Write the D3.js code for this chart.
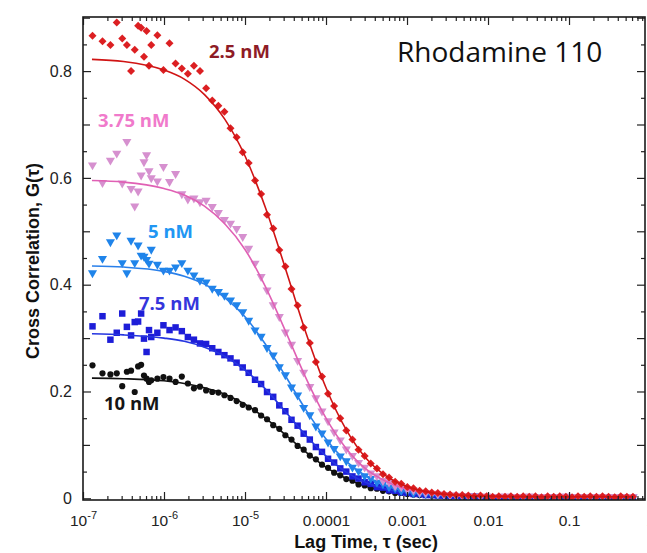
<!DOCTYPE html>
<html><head><meta charset="utf-8">
<script src="https://cdn.jsdelivr.net/npm/d3@7"></script>
<style>body{margin:0;background:#fff}svg{display:block}</style>
</head><body><svg id="c" width="647" height="553"></svg>
<script>
// Shared correlator lag times (s)
const lagTimes = [1.31e-7,1.74e-7,2.18e-7,2.61e-7,3.05e-7,3.48e-7,3.92e-7,4.35e-7,4.79e-7,5.22e-7,5.66e-7,6.09e-7,6.53e-7,6.96e-7,
8.28e-7,9.84e-7,1.17e-6,1.39e-6,1.66e-6,1.97e-6,2.34e-6,2.78e-6,3.31e-6,3.94e-6,4.69e-6,5.57e-6,6.62e-6,7.88e-6,9.37e-6,
1.11e-5,1.33e-5,1.58e-5,1.87e-5,2.23e-5,2.65e-5,3.15e-5,3.75e-5,4.46e-5,5.30e-5,6.31e-5,7.50e-5,8.92e-5,1.06e-4,1.26e-4,
1.50e-4,1.78e-4,2.12e-4,2.52e-4,3.00e-4,3.57e-4,4.25e-4,5.05e-4,6.00e-4,7.14e-4,8.49e-4,1.01e-3,1.20e-3,1.43e-3,1.70e-3,
2.02e-3,2.40e-3,2.86e-3,3.40e-3,4.04e-3,4.81e-3,5.71e-3,6.80e-3,8.08e-3,9.61e-3,1.14e-2,1.36e-2,1.62e-2,1.92e-2,2.29e-2,
2.72e-2,3.23e-2,3.85e-2,4.57e-2,5.44e-2,6.47e-2,7.69e-2,9.15e-2,0.109,0.129,0.154,0.183,0.218,0.259,0.308,0.366,0.435,0.518,0.615];

// Measured G(tau) per concentration
const g25 = [0.866,0.856,0.849,0.891,0.861,0.849,0.800,0.840,0.885,0.881,0.827,0.875,0.810,0.849,
0.867,0.802,0.852,0.814,0.805,0.795,0.810,0.800,0.768,0.745,0.735,0.724,0.693,0.676,0.648,
0.628,0.595,0.570,0.531,0.505,0.465,0.434,0.392,0.361,0.320,0.291,0.255,0.228,0.196,0.173,
0.150,0.127,0.110,0.091,0.079,0.065,0.056,0.045,0.039,0.031,0.027,0.021,0.019,0.014,0.013,
0.011,0.010,0.008,0.007,0.006,0.006,0.005,0.004,0.005,0.004,0.003,0.004,0.003,0.004,0.003,
0.004,0.003,0.004,0.002,0.004,0.003,0.004,0.003,0.002,0.004,0.003,0.004,0.003,0.004,0.003,0.002,0.004,0.003,0.003];
const g375 = [0.624,0.591,0.633,0.646,0.590,0.668,0.580,0.547,0.575,0.605,0.630,0.643,0.613,0.600,
0.594,0.621,0.593,0.608,0.570,0.560,0.562,0.555,0.558,0.546,0.535,0.522,0.515,0.505,0.490,
0.468,0.440,0.415,0.390,0.362,0.340,0.311,0.288,0.258,0.236,0.209,0.188,0.163,0.145,0.124,
0.109,0.092,0.080,0.067,0.058,0.047,0.042,0.033,0.030,0.023,0.021,0.016,0.015,0.011,0.010,
0.009,0.008,0.007,0.006,0.005,0.005,0.004,0.004,0.003,0.004,0.003,0.003,0.004,0.002,0.003,
0.003,0.004,0.002,0.003,0.003,0.002,0.003,0.004,0.002,0.003,0.003,0.002,0.003,0.003,0.002,0.003,0.002,0.003,0.003];
const g5 = [0.422,0.449,0.480,0.493,0.441,0.422,0.483,0.441,0.474,0.455,0.453,0.447,0.440,0.466,
0.438,0.427,0.427,0.433,0.441,0.427,0.418,0.408,0.405,0.393,0.387,0.380,0.371,0.362,0.349,
0.333,0.315,0.303,0.282,0.268,0.246,0.231,0.208,0.193,0.170,0.156,0.135,0.122,0.105,0.093,
0.079,0.070,0.058,0.051,0.042,0.037,0.030,0.027,0.021,0.019,0.014,0.013,0.010,0.009,0.008,
0.007,0.006,0.006,0.005,0.005,0.004,0.003,0.004,0.002,0.003,0.002,0.003,0.002,0.001,0.002,
0.002,0.001,0.002,0.002,0.001,0.002,0.001,0.002,0.001,0.002,0.002,0.001,0.002,0.001,0.002,0.001,0.002,0.001,0.002];
const g75 = [0.322,0.341,0.297,0.310,0.346,0.321,0.305,0.330,0.331,0.346,0.299,0.274,0.315,0.302,
0.310,0.324,0.315,0.320,0.313,0.302,0.297,0.290,0.289,0.281,0.274,0.268,0.262,0.254,0.245,
0.235,0.222,0.214,0.199,0.190,0.174,0.163,0.147,0.136,0.121,0.110,0.096,0.087,0.074,0.067,
0.056,0.050,0.041,0.037,0.030,0.027,0.021,0.020,0.015,0.014,0.011,0.010,0.008,0.008,0.006,
0.006,0.005,0.005,0.004,0.004,0.003,0.002,0.003,0.002,0.001,0.002,0.001,0.002,0.001,0.001,
0.001,0.002,0.001,0.000,0.001,0.002,0.001,0.000,0.001,0.001,0.002,0.000,0.001,0.001,0.000,0.001,0.002,0.001,0.001];
const g10 = [0.249,0.234,0.232,0.234,0.210,0.237,0.239,0.199,0.247,0.250,0.230,0.224,0.218,0.221,
0.224,0.227,0.224,0.218,0.228,0.215,0.206,0.209,0.202,0.199,0.198,0.193,0.188,0.182,0.175,
0.170,0.165,0.155,0.148,0.137,0.130,0.118,0.110,0.098,0.091,0.080,0.073,0.063,0.057,0.048,
0.043,0.036,0.033,0.026,0.024,0.019,0.018,0.014,0.013,0.010,0.010,0.008,0.007,0.006,0.006,
0.005,0.005,0.004,0.003,0.004,0.003,0.002,0.003,0.002,0.002,0.001,0.002,0.001,0.002,0.001,
0.001,0.002,0.001,0.001,0.002,0.001,0.001,0.002,0.001,0.001,0.002,0.001,0.001,0.002,0.001,0.001,0.002,0.001,0.001];

// Fitted curves
const fitLag = [1.29e-7,3.16e-7,1e-6,1.78e-6,3.16e-6,5.62e-6,1e-5,1.78e-5,3.16e-5,5.62e-5,1e-4,1.78e-4,3.16e-4,5.62e-4,1e-3,1.78e-3,3.16e-3,5.62e-3,1e-2,3.16e-2,0.1,0.615];
const fit25 = [0.822,0.818,0.802,0.785,0.756,0.710,0.641,0.545,0.430,0.311,0.207,0.128,0.074,0.041,0.022,0.012,0.007,0.005,0.004,0.003,0.003,0.003];
const fit375 = [0.595,0.592,0.580,0.568,0.547,0.514,0.466,0.397,0.313,0.226,0.150,0.093,0.054,0.031,0.017,0.010,0.006,0.004,0.004,0.003,0.003,0.003];
const fit5 = [0.435,0.433,0.425,0.416,0.401,0.376,0.340,0.289,0.229,0.166,0.111,0.069,0.041,0.023,0.013,0.008,0.005,0.004,0.003,0.002,0.002,0.002];
const fit75 = [0.308,0.306,0.300,0.294,0.283,0.266,0.240,0.205,0.162,0.118,0.079,0.049,0.029,0.017,0.010,0.006,0.004,0.003,0.002,0.001,0.001,0.001];
const fit10 = [0.225,0.224,0.220,0.215,0.207,0.195,0.176,0.150,0.119,0.087,0.058,0.037,0.022,0.013,0.008,0.005,0.003,0.002,0.002,0.001,0.001,0.001];

const seriesNames = ["2.5 nM","3.75 nM","5 nM","7.5 nM","10 nM"];
const xTickValues = [1e-7,1e-6,1e-5,1e-4,1e-3,1e-2,1e-1,1];
const xTickLabels = ["10|-7","10|-6","10|-5","0.0001","0.001","0.01","0.1","1"];
const yTickValues = [0,0.2,0.4,0.6,0.8];
const yTickLabels = ["0","0.2","0.4","0.6","0.8"];

const svg = d3.select("#c");
const L = 83, R = 645, T = 17, B = 500;
const x = d3.scaleLog().domain([1e-7, 0.867]).range([L, R]);
const y = d3.scaleLinear().domain([-0.0032, 0.9013]).range([B, T]);

svg.append("rect").attr("width",647).attr("height",553).attr("fill","#fff");
svg.append("clipPath").attr("id","clip").append("rect").attr("x",L).attr("y",T).attr("width",R-L).attr("height",B-T);

const series = [
  {name:seriesNames[4], g:g10, fit:fit10, sym:d3.symbolCircle, size:30, rot:0, mc:"#111111", lc:"#111111", lab:"#151515", lx:104, ly:410},
  {name:seriesNames[3], g:g75, fit:fit75, sym:d3.symbolSquare, size:42, rot:0, mc:"#1d1dd8", lc:"#2535e0", lab:"#3535dc", lx:139, ly:310},
  {name:seriesNames[2], g:g5, fit:fit5, sym:d3.symbolTriangle, size:36, rot:180, mc:"#1f84ea", lc:"#2a80ea", lab:"#2196f3", lx:148, ly:238},
  {name:seriesNames[1], g:g375, fit:fit375, sym:d3.symbolTriangle, size:36, rot:180, mc:"#d690cf", lc:"#e060b4", lab:"#f07acb", lx:98, ly:127},
  {name:seriesNames[0], g:g25, fit:fit25, sym:d3.symbolSquare, size:32, rot:45, mc:"#dc1f22", lc:"#d01414", lab:"#8e1b26", lx:209, ly:58}
];

const plot = svg.append("g").attr("clip-path","url(#clip)");
const line = d3.line().x(d=>x(d[0])).y(d=>y(d[1])).curve(d3.curveMonotoneX);

series.forEach(s => {
  const n = Math.min(lagTimes.length, s.g.length);
  const pts = d3.range(n).map(i => [lagTimes[i], s.g[i]]);
  plot.append("g").selectAll("path").data(pts).join("path")
    .attr("d", d3.symbol().type(s.sym).size(s.size))
    .attr("transform", d => `translate(${x(d[0])},${y(d[1])}) rotate(${s.rot})`)
    .attr("fill", s.mc);
  const fpts = fitLag.map((t,i)=>[t, s.fit[i]]);
  plot.append("path").datum(fpts).attr("d", line).attr("fill","none")
    .attr("stroke", s.lc).attr("stroke-width",1.6);
});

const axisCol = "#222";
const minorX = [];
for (let e=-7;e<0;e++) for (let m=2;m<=9;m++){ const v=m*Math.pow(10,e); if (v<0.867) minorX.push(v); }
const minorY = [], midY = [];
for (let k=1;k<=18;k++){ const v=+(k*0.05).toFixed(2); if (k%2===0) { if (k%4!==0) midY.push(v);} else minorY.push(v); }

function styleAxis(g){ g.select(".domain").remove(); g.selectAll("line").attr("stroke",axisCol).attr("stroke-width",1.2); }

svg.append("g").attr("transform",`translate(0,${B})`)
  .call(d3.axisBottom(x).tickValues(minorX).tickSize(-4).tickFormat(""))
  .call(styleAxis);
const bx = svg.append("g").attr("transform",`translate(0,${B})`)
  .call(d3.axisBottom(x).tickValues(xTickValues).tickSize(-8).tickPadding(15)
        .tickFormat((d,i)=>xTickLabels[i]))
  .call(styleAxis);
bx.selectAll("text").each(function(d,i){
  const t = d3.select(this); const lab = xTickLabels[i];
  t.text(null).attr("font-family","Liberation Sans, Arial, sans-serif").attr("font-size",15.5).attr("fill","#222");
  if (lab.includes("|")) {
    const [b,sup] = lab.split("|");
    t.append("tspan").text(b);
    t.append("tspan").text(sup).attr("font-size",11).attr("dy",-7);
  } else t.text(lab);
});
svg.append("g").attr("transform",`translate(0,${T})`)
  .call(d3.axisTop(x).tickValues(minorX).tickSize(-4).tickFormat(""))
  .call(styleAxis);
svg.append("g").attr("transform",`translate(0,${T})`)
  .call(d3.axisTop(x).tickValues(xTickValues).tickSize(-8).tickFormat(""))
  .call(styleAxis);
svg.append("g").attr("transform",`translate(${L},0)`)
  .call(d3.axisLeft(y).tickValues(minorY).tickSize(-4).tickFormat(""))
  .call(styleAxis);
svg.append("g").attr("transform",`translate(${L},0)`)
  .call(d3.axisLeft(y).tickValues(midY).tickSize(-7).tickFormat(""))
  .call(styleAxis);
const ly = svg.append("g").attr("transform",`translate(${L},0)`)
  .call(d3.axisLeft(y).tickValues(yTickValues).tickSize(-8).tickPadding(11).tickFormat((d,i)=>yTickLabels[i]))
  .call(styleAxis);
ly.selectAll("text").attr("font-family","Liberation Sans, Arial, sans-serif").attr("font-size",16).attr("fill","#222");
svg.append("g").attr("transform",`translate(${R},0)`)
  .call(d3.axisRight(y).tickValues(minorY).tickSize(-4).tickFormat(""))
  .call(styleAxis);
svg.append("g").attr("transform",`translate(${R},0)`)
  .call(d3.axisRight(y).tickValues(midY.concat(yTickValues)).tickSize(-8).tickFormat(""))
  .call(styleAxis);

svg.append("rect").attr("x",L).attr("y",T).attr("width",R-L).attr("height",B-T)
  .attr("fill","none").attr("stroke","#1a1a1a").attr("stroke-width",1.6);

svg.append("text").attr("x",366).attr("y",548).attr("text-anchor","middle")
  .attr("font-family","Liberation Sans, Arial, sans-serif").attr("font-weight","bold").attr("font-size",18)
  .attr("fill","#111").text("Lag Time, τ (sec)");
svg.append("text").attr("transform","translate(39,261) rotate(-90)").attr("text-anchor","middle")
  .attr("font-family","Liberation Sans, Arial, sans-serif").attr("font-weight","bold").attr("font-size",18)
  .attr("fill","#111").text("Cross Correlation, G(τ)");

series.forEach(s => {
  svg.append("text").attr("x",s.lx).attr("y",s.ly).attr("font-family","Open Sans, sans-serif")
    .attr("font-weight","bold").attr("font-size",18.5).attr("fill",s.lab).text(s.name);
});
svg.append("text").attr("x",397).attr("y",62).attr("font-family","Open Sans, sans-serif")
  .attr("font-size",28).attr("fill","#111").text("Rhodamine 110");
</script></body></html>
